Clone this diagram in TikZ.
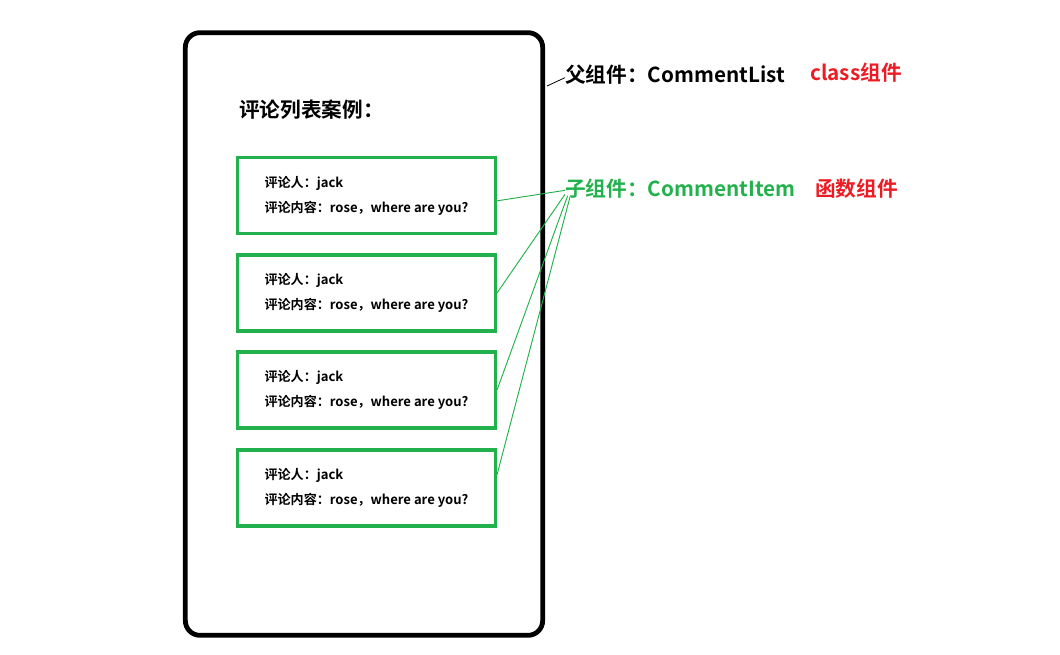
\documentclass[tikz,border=0pt]{standalone}
\usepackage{fontspec}
\setmainfont{Noto Sans CJK SC}[BoldFont={Noto Sans CJK SC Bold}]
\usetikzlibrary{positioning}
\definecolor{itemgreen}{HTML}{22B14C}
\definecolor{kindred}{HTML}{ED1C24}

\begin{document}
\begin{tikzpicture}[
    x=0.75pt, y=-0.75pt,
    frame/.style={draw=black, line width=3.6pt, rounded corners=11pt, minimum width=268pt, minimum height=452pt},
    item/.style={draw=itemgreen, line width=2.3pt, minimum width=193.5pt, minimum height=57pt, align=left, font=\bfseries\fontsize{9.8}{18.75}\selectfont},
    label/.style={anchor=west, inner sep=0pt, font=\bfseries\fontsize{15.5}{18}\selectfont},
    link/.style={draw=itemgreen, line width=0.7pt}
]
\useasboundingbox (0,0) rectangle (1060,654);
\node[frame] (list) at (364,334) {};
\node[label] (title) at (239,110) {评论列表案例：};
\node[item] (item1) at (366.5,195.5) {评论人：jack\\评论内容：rose，where are you?};
\node[item] (item2) at (366.5,293) {评论人：jack\\评论内容：rose，where are you?};
\node[item] (item3) at (366.5,390) {评论人：jack\\评论内容：rose，where are you?};
\node[item] (item4) at (366.5,488) {评论人：jack\\评论内容：rose，where are you?};
\node[label] (parent) at (565,75) {父组件：CommentList};
\node[label, text=kindred] (parentkind) at (810,73) {class组件};
\node[label, text=itemgreen] (child) at (565,189) {子组件：CommentItem};
\node[label, text=kindred] (childkind) at (815,189) {函数组件};
\coordinate (ptail) at (547,86);
\draw[line width=0.6pt] (ptail) -- ([yshift=-2pt]parent.west);
\draw[link] ([yshift=-1pt]child.west) -- ([yshift=-4pt]item1.east);
\draw[link] ([yshift=-4pt]child.west) -- (item2.east);
\draw[link] ([xshift=2pt,yshift=-5pt]child.west) -- (item3.east);
\draw[link] ([xshift=4pt,yshift=-5pt]child.west) -- ([yshift=10pt]item4.east);
\end{tikzpicture}
\end{document}
